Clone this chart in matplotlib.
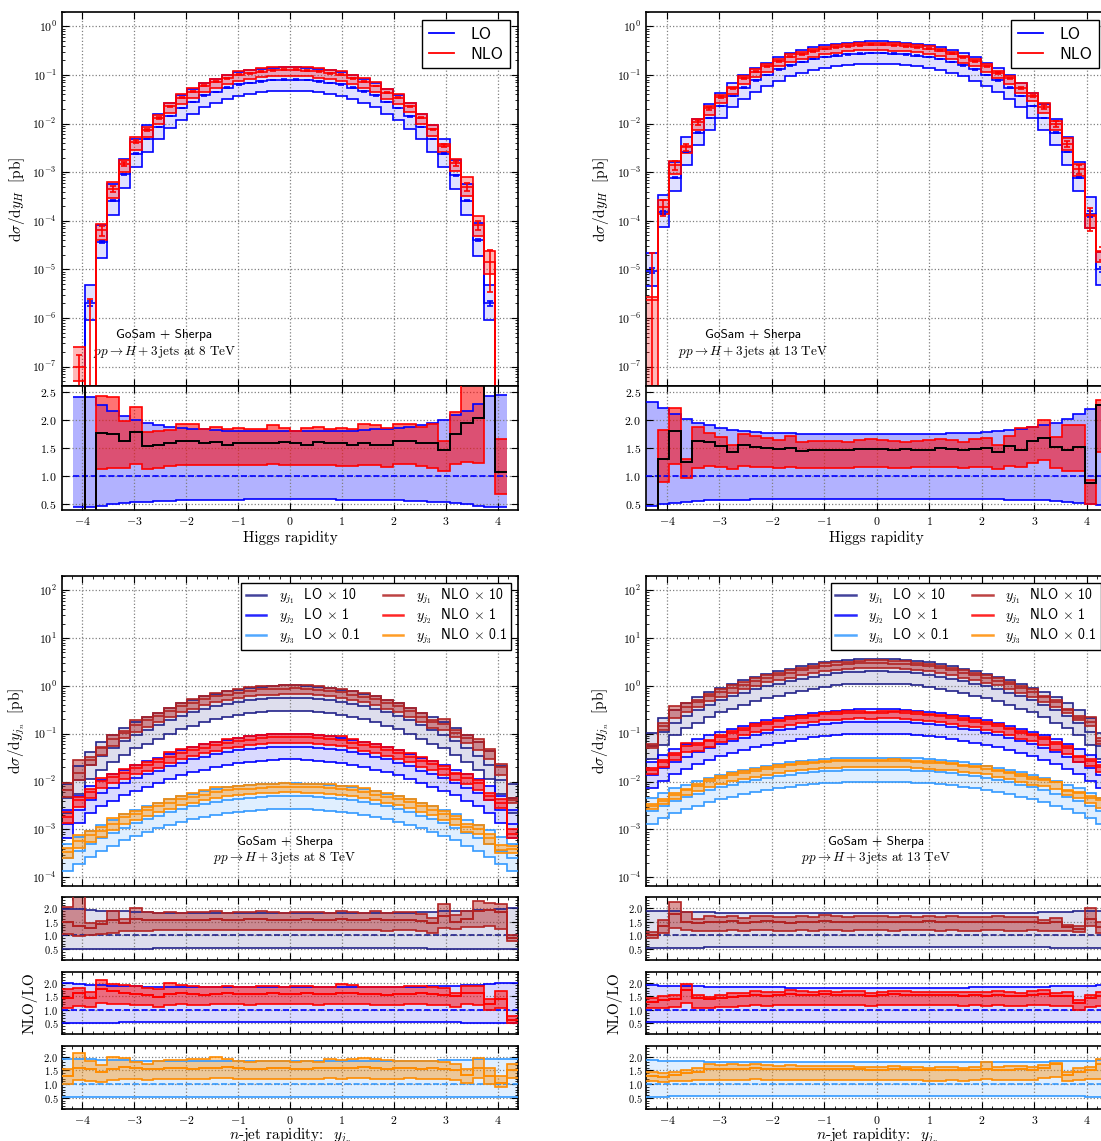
import numpy as np
import matplotlib
matplotlib.use("Agg")
import matplotlib.pyplot as plt
from matplotlib.lines import Line2D
from matplotlib.ticker import AutoMinorLocator, LogLocator, MultipleLocator, NullFormatter

nan = np.nan

# rapidity binning shared by every histogram
edges = np.linspace(-4.4, 4.4, 41)
centres = 0.5 * (edges[1:] + edges[:-1])

# ---------------- Higgs rapidity, 8 TeV ----------------
# LO central [pb]; band edges, K-factor and NLO band are given relative to LO central
h8_lo = [nan, 1e-10, 2.0e-6, 3.6e-5, 2.6e-4, 9.0e-4, 2.4e-3, 4.8e-3, 8.4e-3, 1.43e-2,
         2.1e-2, 2.8e-2, 3.8e-2, 4.5e-2, 5.5e-2, 6.4e-2, 6.9e-2, 7.4e-2, 7.8e-2, 8.0e-2,
         8.0e-2, 7.8e-2, 7.4e-2, 6.9e-2, 6.4e-2, 5.5e-2, 4.6e-2, 3.8e-2, 2.8e-2, 2.1e-2,
         1.4e-2, 8.4e-3, 4.8e-3, 2.4e-3, 8.7e-4, 2.6e-4, 4.0e-5, 2.0e-6, 1e-10, nan]
h8_lo_dn = [nan, 0.45, 0.45, 0.47, 0.50, 0.52, 0.535, 0.55, 0.56, 0.565,
            0.57, 0.575, 0.58, 0.58, 0.585, 0.585, 0.59, 0.59, 0.59, 0.59,
            0.59, 0.59, 0.59, 0.59, 0.585, 0.585, 0.58, 0.58, 0.575, 0.57,
            0.565, 0.56, 0.55, 0.535, 0.52, 0.50, 0.47, 0.45, 0.45, nan]
h8_lo_up = [nan, 2.41, 2.41, 2.27, 2.15, 2.07, 2.00, 1.94, 1.91, 1.88,
            1.86, 1.84, 1.83, 1.82, 1.81, 1.81, 1.80, 1.80, 1.80, 1.80,
            1.80, 1.80, 1.80, 1.80, 1.81, 1.81, 1.82, 1.83, 1.84, 1.86,
            1.88, 1.91, 1.95, 2.00, 2.09, 2.16, 2.28, 2.42, 2.44, nan]
h8_k = [nan, 1000.0, -0.5, 1.77, 1.75, 1.62, 1.78, 1.53, 1.56, 1.58,
        1.62, 1.63, 1.58, 1.60, 1.56, 1.59, 1.58, 1.59, 1.59, 1.61,
        1.59, 1.56, 1.61, 1.58, 1.59, 1.56, 1.58, 1.56, 1.55, 1.62,
        1.63, 1.58, 1.58, 1.46, 1.74, 1.95, 2.04, 7.0, 1.08, nan]
h8_nlo_dn = [nan, 500.0, -1.5, 1.12, 1.15, 1.14, 1.22, 1.12, 1.15, 1.18,
             1.19, 1.19, 1.19, 1.20, 1.19, 1.20, 1.19, 1.20, 1.21, 1.20,
             1.19, 1.20, 1.19, 1.20, 1.18, 1.18, 1.19, 1.20, 1.17, 1.21,
             1.22, 1.18, 1.15, 1.09, 1.21, 1.26, 1.24, 4.0, 0.69, nan]
h8_nlo_up = [nan, 2500.0, -0.2, 2.43, 2.40, 1.98, 2.22, 1.78, 1.80, 1.82,
             1.93, 1.93, 1.84, 1.87, 1.83, 1.85, 1.84, 1.84, 1.90, 1.85,
             1.80, 1.85, 1.87, 1.84, 1.85, 1.84, 1.92, 1.91, 1.85, 1.93,
             1.93, 1.88, 1.93, 1.62, 2.14, 3.00, 3.20, 12.0, 1.66, nan]
h8_lo_err = [nan, 0.0, 0.12, 0.05, 0.03, 0.02, 0.015, 0.012, 0.01, 0.01,
             0.01, 0.01, 0.01, 0.01, 0.01, 0.01, 0.01, 0.01, 0.01, 0.01,
             0.01, 0.01, 0.01, 0.01, 0.01, 0.01, 0.01, 0.01, 0.01, 0.01,
             0.01, 0.01, 0.012, 0.015, 0.02, 0.03, 0.05, 0.12, 0.0, nan]
h8_nlo_err = [nan, 0.70, 3.5, 0.25, 0.15, 0.10, 0.06, 0.04, 0.03, 0.03,
              0.02, 0.02, 0.02, 0.02, 0.02, 0.02, 0.02, 0.02, 0.02, 0.02,
              0.02, 0.02, 0.02, 0.02, 0.02, 0.02, 0.02, 0.02, 0.02, 0.02,
              0.03, 0.03, 0.04, 0.08, 0.10, 0.20, 0.20, 0.75, 0.0, nan]

# ---------------- Higgs rapidity, 13 TeV ----------------
h13_lo = [9.5e-6, 1.5e-4, 7.7e-4, 2.6e-3, 6.5e-3, 1.3e-2, 2.3e-2, 3.7e-2, 5.5e-2, 7.7e-2,
          0.100, 0.130, 0.157, 0.184, 0.210, 0.235, 0.250, 0.265, 0.275, 0.280,
          0.280, 0.275, 0.265, 0.250, 0.235, 0.210, 0.184, 0.157, 0.130, 0.100,
          7.7e-2, 5.5e-2, 3.7e-2, 2.3e-2, 1.3e-2, 6.5e-3, 2.6e-3, 7.7e-4, 1.4e-4, 1.0e-5]
h13_lo_dn = [0.47, 0.50, 0.53, 0.55, 0.56, 0.57, 0.575, 0.58, 0.585, 0.59,
             0.59, 0.59, 0.595, 0.595, 0.60, 0.60, 0.60, 0.60, 0.60, 0.60,
             0.60, 0.60, 0.60, 0.60, 0.60, 0.60, 0.595, 0.595, 0.59, 0.59,
             0.59, 0.585, 0.58, 0.575, 0.57, 0.56, 0.55, 0.53, 0.50, 0.48]
h13_lo_up = [2.31, 2.21, 2.10, 2.02, 1.94, 1.90, 1.86, 1.82, 1.80, 1.78,
             1.77, 1.76, 1.76, 1.75, 1.75, 1.75, 1.75, 1.75, 1.75, 1.75,
             1.75, 1.75, 1.75, 1.75, 1.75, 1.75, 1.76, 1.76, 1.77, 1.78,
             1.80, 1.82, 1.84, 1.87, 1.91, 1.95, 2.02, 2.10, 2.20, 2.26]
h13_k = [0.25, 1.30, 1.80, 1.26, 1.62, 1.60, 1.53, 1.43, 1.55, 1.52,
         1.50, 1.48, 1.50, 1.44, 1.46, 1.46, 1.47, 1.46, 1.48, 1.49,
         1.49, 1.47, 1.48, 1.47, 1.47, 1.50, 1.48, 1.46, 1.48, 1.50,
         1.43, 1.54, 1.47, 1.62, 1.68, 1.52, 1.47, 1.52, 0.88, 2.27]
h13_nlo_dn = [-0.1, 0.90, 1.22, 0.96, 1.15, 1.18, 1.17, 1.12, 1.18, 1.16,
              1.16, 1.15, 1.17, 1.14, 1.14, 1.15, 1.15, 1.15, 1.16, 1.17,
              1.16, 1.15, 1.15, 1.16, 1.16, 1.17, 1.16, 1.14, 1.16, 1.17,
              1.12, 1.18, 1.16, 1.24, 1.28, 1.15, 1.10, 1.09, 0.50, 1.43]
h13_nlo_up = [0.29, 1.82, 2.21, 1.31, 1.88, 1.76, 1.70, 1.56, 1.74, 1.72,
              1.68, 1.64, 1.72, 1.60, 1.62, 1.62, 1.63, 1.61, 1.64, 1.66,
              1.64, 1.62, 1.61, 1.63, 1.64, 1.66, 1.65, 1.60, 1.66, 1.68,
              1.56, 1.72, 1.86, 1.87, 2.00, 1.70, 1.90, 1.90, 0.93, 2.35]
h13_lo_err = [0.12, 0.06, 0.03, 0.02, 0.015, 0.01, 0.01, 0.01, 0.01, 0.01,
              0.01, 0.01, 0.01, 0.01, 0.01, 0.01, 0.01, 0.01, 0.01, 0.01,
              0.01, 0.01, 0.01, 0.01, 0.01, 0.01, 0.01, 0.01, 0.01, 0.01,
              0.01, 0.01, 0.01, 0.01, 0.01, 0.015, 0.02, 0.03, 0.15, 0.12]
h13_nlo_err = [8.0, 0.35, 0.20, 0.15, 0.10, 0.07, 0.05, 0.04, 0.03, 0.03,
               0.02, 0.02, 0.02, 0.02, 0.02, 0.02, 0.02, 0.02, 0.02, 0.02,
               0.02, 0.02, 0.02, 0.02, 0.02, 0.02, 0.02, 0.02, 0.02, 0.02,
               0.03, 0.03, 0.04, 0.05, 0.08, 0.12, 0.15, 0.20, 0.50, 0.30]

# ---------------- n-jet rapidity, 8 TeV (unscaled LO in pb) ----------------
j1_8_lo = [0.00045, 0.0011, 0.0022, 0.0035, 0.0050, 0.0070, 0.0095, 0.0120, 0.0150, 0.0190,
           0.0240, 0.0280, 0.0330, 0.0380, 0.0420, 0.0460, 0.0500, 0.0530, 0.0550, 0.0560,
           0.0560, 0.0550, 0.0530, 0.0500, 0.0460, 0.0420, 0.0380, 0.0330, 0.0280, 0.0240,
           0.0190, 0.0150, 0.0120, 0.0095, 0.0070, 0.0050, 0.0035, 0.0022, 0.0011, 0.00045]
j1_8_lo_dn = [0.50, 0.50, 0.51, 0.51, 0.52, 0.52, 0.52, 0.52, 0.53, 0.53,
              0.53, 0.53, 0.53, 0.53, 0.53, 0.53, 0.53, 0.53, 0.53, 0.53,
              0.53, 0.53, 0.53, 0.53, 0.53, 0.53, 0.53, 0.53, 0.53, 0.53,
              0.53, 0.53, 0.52, 0.52, 0.52, 0.52, 0.51, 0.51, 0.50, 0.50]
j1_8_lo_up = [1.98, 1.97, 1.93, 1.90, 1.89, 1.88, 1.86, 1.85, 1.84, 1.84,
              1.83, 1.83, 1.82, 1.82, 1.82, 1.82, 1.82, 1.82, 1.82, 1.82,
              1.82, 1.82, 1.82, 1.82, 1.82, 1.82, 1.82, 1.83, 1.83, 1.84,
              1.84, 1.85, 1.86, 1.88, 1.89, 1.90, 1.92, 1.95, 1.97, 1.99]
j1_8_k = [1.50, 1.35, 1.28, 1.42, 1.55, 1.45, 1.60, 1.58, 1.57, 1.58,
          1.56, 1.57, 1.58, 1.59, 1.57, 1.58, 1.59, 1.60, 1.58, 1.57,
          1.58, 1.59, 1.57, 1.58, 1.60, 1.57, 1.56, 1.60, 1.55, 1.58,
          1.57, 1.52, 1.45, 1.70, 1.50, 1.60, 1.90, 1.95, 1.85, 0.90]
j1_8_nlo_dn = [1.05, 0.98, 1.00, 1.05, 1.10, 1.15, 1.17, 1.18, 1.19, 1.20,
               1.19, 1.20, 1.20, 1.21, 1.20, 1.20, 1.21, 1.21, 1.20, 1.20,
               1.20, 1.21, 1.20, 1.20, 1.21, 1.20, 1.19, 1.21, 1.18, 1.20,
               1.19, 1.16, 1.10, 1.28, 1.25, 1.30, 1.30, 1.35, 1.25, 0.78]
j1_8_nlo_up = [2.05, 2.60, 1.45, 1.52, 1.90, 1.62, 2.02, 1.85, 1.84, 1.85,
               1.83, 1.86, 1.87, 1.88, 1.84, 1.85, 1.87, 1.88, 1.85, 1.84,
               1.86, 1.87, 1.85, 1.84, 1.88, 1.85, 1.84, 1.90, 1.82, 1.86,
               1.85, 1.80, 1.65, 2.15, 1.75, 1.90, 2.25, 2.20, 2.17, 1.02]

j2_8_lo = [0.0013, 0.0026, 0.0042, 0.0058, 0.0075, 0.0095, 0.0120, 0.0145, 0.0170, 0.0210,
           0.0250, 0.0290, 0.0330, 0.0370, 0.0410, 0.0450, 0.0480, 0.0510, 0.0530, 0.0540,
           0.0540, 0.0530, 0.0510, 0.0480, 0.0450, 0.0410, 0.0370, 0.0330, 0.0290, 0.0250,
           0.0210, 0.0170, 0.0145, 0.0120, 0.0095, 0.0075, 0.0058, 0.0042, 0.0026, 0.0013]
j2_8_lo_dn = [0.52, 0.52, 0.53, 0.53, 0.53, 0.54, 0.54, 0.54, 0.54, 0.54,
              0.54, 0.54, 0.54, 0.54, 0.54, 0.54, 0.54, 0.54, 0.54, 0.54,
              0.54, 0.54, 0.54, 0.54, 0.54, 0.54, 0.54, 0.54, 0.54, 0.54,
              0.54, 0.54, 0.54, 0.54, 0.54, 0.53, 0.53, 0.53, 0.52, 0.52]
j2_8_lo_up = [1.97, 1.95, 1.92, 1.90, 1.88, 1.87, 1.86, 1.85, 1.84, 1.84,
              1.83, 1.83, 1.83, 1.83, 1.83, 1.83, 1.83, 1.83, 1.83, 1.83,
              1.83, 1.83, 1.83, 1.83, 1.83, 1.83, 1.83, 1.83, 1.83, 1.84,
              1.84, 1.85, 1.86, 1.87, 1.88, 1.90, 1.92, 1.95, 1.97, 1.98]
j2_8_k = [1.42, 1.62, 1.45, 1.75, 1.68, 1.62, 1.58, 1.55, 1.48, 1.58,
          1.60, 1.57, 1.56, 1.58, 1.60, 1.58, 1.57, 1.59, 1.60, 1.58,
          1.59, 1.60, 1.57, 1.58, 1.62, 1.60, 1.58, 1.57, 1.56, 1.57,
          1.58, 1.60, 1.58, 1.55, 1.50, 1.62, 1.60, 1.22, 1.40, 0.62]
j2_8_nlo_dn = [1.05, 1.15, 1.10, 1.25, 1.22, 1.20, 1.18, 1.17, 1.12, 1.18,
               1.20, 1.19, 1.19, 1.20, 1.21, 1.20, 1.19, 1.21, 1.21, 1.20,
               1.20, 1.21, 1.19, 1.20, 1.22, 1.21, 1.20, 1.19, 1.18, 1.19,
               1.20, 1.21, 1.18, 1.16, 1.12, 1.20, 1.18, 1.00, 1.08, 0.50]
j2_8_nlo_up = [1.75, 1.80, 1.65, 2.10, 1.95, 1.90, 1.88, 1.80, 1.75, 1.97,
               1.92, 1.86, 1.84, 1.85, 1.88, 1.85, 1.84, 1.86, 1.87, 1.85,
               1.86, 1.88, 1.84, 1.85, 1.95, 1.90, 1.85, 1.84, 1.83, 1.84,
               1.86, 1.88, 1.85, 1.80, 1.63, 1.89, 1.89, 1.38, 1.70, 0.78]

j3_8_lo = [0.0026, 0.0036, 0.0050, 0.0065, 0.0085, 0.0110, 0.0135, 0.0165, 0.0195, 0.0230,
           0.0270, 0.0305, 0.0340, 0.0380, 0.0410, 0.0440, 0.0460, 0.0480, 0.0490, 0.0500,
           0.0500, 0.0490, 0.0480, 0.0460, 0.0440, 0.0410, 0.0380, 0.0340, 0.0305, 0.0270,
           0.0230, 0.0195, 0.0165, 0.0135, 0.0110, 0.0085, 0.0065, 0.0050, 0.0036, 0.0026]
j3_8_lo_dn = [0.53, 0.53, 0.54, 0.54, 0.54, 0.54, 0.54, 0.54, 0.54, 0.54,
              0.54, 0.54, 0.54, 0.54, 0.54, 0.54, 0.54, 0.54, 0.54, 0.54,
              0.54, 0.54, 0.54, 0.54, 0.54, 0.54, 0.54, 0.54, 0.54, 0.54,
              0.54, 0.54, 0.54, 0.54, 0.54, 0.54, 0.54, 0.54, 0.53, 0.53]
j3_8_lo_up = [1.93, 1.92, 1.90, 1.89, 1.88, 1.87, 1.86, 1.86, 1.85, 1.85,
              1.85, 1.85, 1.85, 1.85, 1.85, 1.85, 1.85, 1.85, 1.85, 1.85,
              1.85, 1.85, 1.85, 1.85, 1.85, 1.85, 1.85, 1.85, 1.85, 1.85,
              1.85, 1.86, 1.86, 1.87, 1.88, 1.89, 1.90, 1.91, 1.92, 1.93]
j3_8_k = [1.30, 1.58, 1.55, 1.45, 1.55, 1.62, 1.58, 1.55, 1.57, 1.58,
          1.60, 1.56, 1.58, 1.60, 1.62, 1.58, 1.56, 1.57, 1.58, 1.58,
          1.57, 1.56, 1.58, 1.60, 1.58, 1.60, 1.61, 1.58, 1.57, 1.58,
          1.60, 1.55, 1.58, 1.56, 1.52, 1.35, 1.60, 1.30, 1.05, 1.50]
j3_8_nlo_dn = [1.00, 1.15, 1.10, 1.08, 1.15, 1.18, 1.18, 1.17, 1.18, 1.19,
               1.20, 1.19, 1.20, 1.21, 1.22, 1.20, 1.19, 1.20, 1.20, 1.20,
               1.19, 1.19, 1.20, 1.21, 1.20, 1.21, 1.22, 1.20, 1.19, 1.20,
               1.21, 1.18, 1.19, 1.18, 1.15, 1.05, 1.22, 1.00, 0.90, 1.22]
j3_8_nlo_up = [1.55, 2.12, 1.85, 1.70, 2.00, 1.95, 1.80, 1.75, 1.85, 1.87,
               1.88, 1.90, 1.93, 2.00, 1.92, 1.85, 1.82, 1.84, 1.83, 1.86,
               1.82, 1.83, 1.82, 1.90, 1.88, 1.93, 1.95, 1.90, 1.88, 1.86,
               1.85, 1.86, 1.85, 1.80, 1.75, 1.55, 1.95, 1.60, 1.30, 1.75]

# ---------------- n-jet rapidity, 13 TeV (unscaled LO in pb) ----------------
j1_13_lo = [0.0055, 0.011, 0.017, 0.024, 0.031, 0.040, 0.050, 0.060, 0.072, 0.085,
            0.098, 0.112, 0.127, 0.142, 0.156, 0.170, 0.182, 0.191, 0.197, 0.200,
            0.200, 0.197, 0.191, 0.182, 0.170, 0.156, 0.142, 0.127, 0.112, 0.098,
            0.085, 0.072, 0.060, 0.050, 0.040, 0.031, 0.024, 0.017, 0.011, 0.0055]
j1_13_lo_dn = [0.54, 0.54, 0.55, 0.55, 0.55, 0.56, 0.56, 0.56, 0.56, 0.56,
               0.56, 0.56, 0.56, 0.56, 0.56, 0.56, 0.56, 0.56, 0.56, 0.56,
               0.56, 0.56, 0.56, 0.56, 0.56, 0.56, 0.56, 0.56, 0.56, 0.56,
               0.56, 0.56, 0.56, 0.56, 0.56, 0.55, 0.55, 0.55, 0.54, 0.54]
j1_13_lo_up = [1.91, 1.90, 1.88, 1.87, 1.86, 1.85, 1.84, 1.83, 1.83, 1.82,
               1.82, 1.81, 1.81, 1.81, 1.81, 1.81, 1.81, 1.81, 1.81, 1.81,
               1.81, 1.81, 1.81, 1.81, 1.81, 1.81, 1.81, 1.81, 1.81, 1.82,
               1.82, 1.83, 1.83, 1.84, 1.85, 1.86, 1.87, 1.88, 1.90, 1.91]
j1_13_k = [1.00, 1.35, 1.80, 1.48, 1.45, 1.50, 1.48, 1.52, 1.47, 1.50,
           1.52, 1.48, 1.47, 1.50, 1.49, 1.52, 1.50, 1.48, 1.50, 1.49,
           1.50, 1.48, 1.51, 1.50, 1.52, 1.49, 1.50, 1.48, 1.49, 1.50,
           1.51, 1.49, 1.48, 1.50, 1.45, 1.48, 1.30, 1.25, 1.60, 1.30]
j1_13_nlo_dn = [0.90, 1.10, 1.27, 1.20, 1.15, 1.18, 1.17, 1.20, 1.17, 1.19,
                1.20, 1.18, 1.17, 1.19, 1.18, 1.20, 1.19, 1.18, 1.19, 1.19,
                1.19, 1.18, 1.19, 1.19, 1.20, 1.18, 1.19, 1.17, 1.18, 1.19,
                1.20, 1.18, 1.17, 1.19, 1.15, 1.17, 1.15, 1.12, 1.35, 1.10]
j1_13_nlo_up = [1.12, 1.55, 2.22, 1.85, 1.62, 1.70, 1.68, 1.72, 1.65, 1.70,
                1.72, 1.68, 1.66, 1.70, 1.69, 1.75, 1.70, 1.68, 1.71, 1.70,
                1.70, 1.68, 1.70, 1.69, 1.72, 1.68, 1.70, 1.66, 1.68, 1.69,
                1.70, 1.68, 1.66, 1.68, 1.55, 1.65, 1.40, 1.35, 2.00, 1.50]

j2_13_lo = [0.0135, 0.019, 0.026, 0.033, 0.041, 0.050, 0.060, 0.070, 0.081, 0.093,
            0.105, 0.117, 0.128, 0.139, 0.150, 0.160, 0.168, 0.174, 0.178, 0.180,
            0.180, 0.178, 0.174, 0.168, 0.160, 0.150, 0.139, 0.128, 0.117, 0.105,
            0.093, 0.081, 0.070, 0.060, 0.050, 0.041, 0.033, 0.026, 0.019, 0.0135]
j2_13_lo_dn = [0.55, 0.55, 0.56, 0.56, 0.56, 0.56, 0.56, 0.56, 0.56, 0.56,
               0.56, 0.56, 0.56, 0.56, 0.56, 0.56, 0.56, 0.56, 0.56, 0.56,
               0.56, 0.56, 0.56, 0.56, 0.56, 0.56, 0.56, 0.56, 0.56, 0.56,
               0.56, 0.56, 0.56, 0.56, 0.56, 0.56, 0.56, 0.56, 0.55, 0.55]
j2_13_lo_up = [1.90, 1.89, 1.88, 1.87, 1.86, 1.85, 1.84, 1.83, 1.83, 1.82,
               1.82, 1.82, 1.81, 1.81, 1.81, 1.81, 1.81, 1.81, 1.81, 1.81,
               1.81, 1.81, 1.81, 1.81, 1.81, 1.81, 1.81, 1.81, 1.82, 1.82,
               1.82, 1.83, 1.83, 1.84, 1.85, 1.86, 1.87, 1.88, 1.89, 1.90]
j2_13_k = [1.30, 1.35, 1.40, 1.72, 1.45, 1.38, 1.45, 1.48, 1.50, 1.55,
           1.52, 1.55, 1.58, 1.56, 1.55, 1.58, 1.54, 1.55, 1.56, 1.50,
           1.53, 1.57, 1.55, 1.54, 1.53, 1.55, 1.54, 1.52, 1.53, 1.52,
           1.55, 1.52, 1.50, 1.55, 1.58, 1.50, 1.52, 1.25, 1.45, 1.50]
j2_13_nlo_dn = [1.05, 1.08, 1.10, 1.25, 1.08, 1.05, 1.10, 1.12, 1.14, 1.17,
                1.15, 1.17, 1.19, 1.18, 1.17, 1.19, 1.16, 1.17, 1.18, 1.14,
                1.16, 1.19, 1.17, 1.16, 1.16, 1.17, 1.16, 1.15, 1.16, 1.15,
                1.17, 1.15, 1.13, 1.17, 1.19, 1.13, 1.15, 1.00, 1.10, 1.15]
j2_13_nlo_up = [1.45, 1.50, 1.55, 1.96, 1.55, 1.48, 1.55, 1.60, 1.62, 1.68,
                1.65, 1.66, 1.72, 1.68, 1.66, 1.70, 1.66, 1.68, 1.70, 1.60,
                1.65, 1.70, 1.68, 1.66, 1.65, 1.67, 1.66, 1.64, 1.65, 1.64,
                1.68, 1.66, 1.62, 1.68, 1.72, 1.62, 1.65, 1.35, 1.55, 1.65]

j3_13_lo = [0.024, 0.031, 0.039, 0.047, 0.056, 0.066, 0.076, 0.086, 0.097, 0.108,
            0.119, 0.130, 0.140, 0.150, 0.158, 0.165, 0.170, 0.174, 0.176, 0.177,
            0.177, 0.176, 0.174, 0.170, 0.165, 0.158, 0.150, 0.140, 0.130, 0.119,
            0.108, 0.097, 0.086, 0.076, 0.066, 0.056, 0.047, 0.039, 0.031, 0.024]
j3_13_lo_dn = [0.55, 0.55, 0.56, 0.56, 0.56, 0.56, 0.56, 0.56, 0.56, 0.56,
               0.56, 0.56, 0.56, 0.56, 0.56, 0.56, 0.56, 0.56, 0.56, 0.56,
               0.56, 0.56, 0.56, 0.56, 0.56, 0.56, 0.56, 0.56, 0.56, 0.56,
               0.56, 0.56, 0.56, 0.56, 0.56, 0.56, 0.56, 0.56, 0.55, 0.55]
j3_13_lo_up = [1.87, 1.86, 1.85, 1.84, 1.83, 1.82, 1.82, 1.81, 1.81, 1.80,
               1.80, 1.80, 1.80, 1.80, 1.80, 1.80, 1.80, 1.80, 1.80, 1.80,
               1.80, 1.80, 1.80, 1.80, 1.80, 1.80, 1.80, 1.80, 1.80, 1.80,
               1.80, 1.81, 1.81, 1.82, 1.82, 1.83, 1.84, 1.85, 1.86, 1.87]
j3_13_k = [1.30, 1.28, 1.35, 1.40, 1.45, 1.55, 1.55, 1.57, 1.55, 1.58,
           1.56, 1.55, 1.57, 1.56, 1.55, 1.54, 1.55, 1.55, 1.54, 1.52,
           1.53, 1.55, 1.54, 1.53, 1.50, 1.52, 1.53, 1.50, 1.52, 1.55,
           1.52, 1.53, 1.55, 1.52, 1.60, 1.75, 1.35, 1.45, 1.50, 1.75]
j3_13_nlo_dn = [1.10, 1.08, 1.10, 1.12, 1.15, 1.17, 1.16, 1.17, 1.16, 1.18,
                1.17, 1.16, 1.17, 1.16, 1.16, 1.15, 1.16, 1.16, 1.15, 1.14,
                1.14, 1.16, 1.15, 1.14, 1.12, 1.13, 1.15, 1.12, 1.14, 1.20,
                1.14, 1.15, 1.16, 1.14, 1.22, 1.28, 1.10, 1.15, 1.18, 1.20]
j3_13_nlo_up = [1.45, 1.40, 1.45, 1.50, 1.60, 1.72, 1.70, 1.72, 1.70, 1.72,
                1.70, 1.68, 1.70, 1.68, 1.66, 1.65, 1.66, 1.65, 1.64, 1.62,
                1.63, 1.66, 1.64, 1.62, 1.60, 1.62, 1.64, 1.58, 1.62, 1.80,
                1.62, 1.65, 1.66, 1.62, 1.70, 1.78, 1.45, 1.58, 1.62, 1.90]

jet_scales = [10.0, 1.0, 0.1]
jet_scale_labels = ["10", "1", "0.1"]
jet_lo_colors = ["#22228a", "#0000ff", "#3399ff"]
jet_nlo_colors = ["#b22222", "#ff0000", "#ff8c00"]

plt.rcParams.update({
    "font.family": "serif",
    "font.serif": ["cmr10"],
    "mathtext.fontset": "cm",
    "axes.formatter.use_mathtext": True,
    "axes.linewidth": 1.2,
    "xtick.direction": "in",
    "ytick.direction": "in",
    "xtick.top": True,
    "ytick.right": True,
    "xtick.major.size": 5,
    "ytick.major.size": 5,
    "xtick.minor.size": 2.5,
    "ytick.minor.size": 2.5,
    "xtick.labelsize": 8.5,
    "ytick.labelsize": 8.5,
})


def arr(v):
    return np.asarray(v, dtype=float)


def filled_range(lo):
    idx = np.flatnonzero(np.isfinite(arr(lo)))
    return slice(idx[0], idx[-1] + 1), edges[idx[0]:idx[-1] + 2]


def draw_spectrum(ax, lo, lo_dn, lo_up, k, nlo_dn, nlo_up, c_lo, c_nlo,
                  a_lo, a_nlo, scale=1.0, lo_err=None, nlo_err=None):
    s, e = filled_range(lo)
    base = arr(lo)[s] * scale
    lo_lines = [base * arr(lo_dn)[s], base, base * arr(lo_up)[s]]
    nlo_lines = [base * arr(v)[s] for v in (nlo_dn, k, nlo_up)]
    ax.stairs(lo_lines[2], e, baseline=lo_lines[0], fill=True, color=c_lo, alpha=a_lo, lw=0, zorder=1)
    ax.stairs(nlo_lines[2], e, baseline=nlo_lines[0], fill=True, color=c_nlo, alpha=a_nlo, lw=0, zorder=2)
    for v in lo_lines:
        ax.stairs(v, e, baseline=None, color=c_lo, lw=1.2, zorder=3)
    for v in nlo_lines:
        ax.stairs(v, e, baseline=None, color=c_nlo, lw=1.2, zorder=4)
    if lo_err is not None:
        ax.errorbar(centres[s], base, yerr=np.abs(base) * arr(lo_err)[s], fmt="none",
                    ecolor=c_lo, elinewidth=1.2, capsize=2, capthick=1.2, zorder=5)
    if nlo_err is not None:
        ax.errorbar(centres[s], nlo_lines[1], yerr=np.abs(nlo_lines[1]) * arr(nlo_err)[s], fmt="none",
                    ecolor=c_nlo, elinewidth=1.2, capsize=2, capthick=1.2, zorder=6)


def draw_ratio(ax, lo, lo_dn, lo_up, k, nlo_dn, nlo_up, c_lo, c_nlo, c_k, a_lo, a_nlo):
    s, e = filled_range(lo)
    dn, up = arr(lo_dn)[s], arr(lo_up)[s]
    ndn, kk, nup = arr(nlo_dn)[s], arr(k)[s], arr(nlo_up)[s]
    ax.stairs(up, e, baseline=dn, fill=True, color=c_lo, alpha=a_lo, lw=0, zorder=1)
    ax.stairs(nup, e, baseline=ndn, fill=True, color=c_nlo, alpha=a_nlo, lw=0, zorder=2)
    ax.stairs(dn, e, baseline=None, color=c_lo, lw=1.2, zorder=3)
    ax.stairs(up, e, baseline=None, color=c_lo, lw=1.2, zorder=3)
    ax.stairs(np.ones_like(dn), e, baseline=None, color=c_lo, lw=1.2, ls="--", zorder=3)
    ax.stairs(ndn, e, baseline=None, color=c_nlo, lw=1.2, zorder=4)
    ax.stairs(nup, e, baseline=None, color=c_nlo, lw=1.2, zorder=4)
    ax.stairs(kk, e, baseline=None, color=c_k, lw=1.4, zorder=5)


def style_axis(ax, log=False):
    ax.set_xlim(-4.4, 4.4)
    ax.xaxis.set_major_locator(MultipleLocator(1))
    ax.grid(True, which="major", ls=":", color="#808080", lw=0.9)
    if log:
        ax.set_yscale("log")
        ax.yaxis.set_major_locator(LogLocator(base=10, numticks=20))
        ax.yaxis.set_minor_locator(LogLocator(base=10, subs=np.arange(2, 10), numticks=20))
        ax.yaxis.set_minor_formatter(NullFormatter())


W, H = 1101.0, 1141.0
fig = plt.figure(figsize=(W / 100, H / 100), dpi=100)


def rect(x0, x1, y_top, y_bottom):
    return [x0 / W, 1 - y_bottom / H, (x1 - x0) / W, (y_bottom - y_top) / H]


columns = [(61.7, 518.3), (646.0, 1107.7)]

# ---------------- Higgs rapidity panels ----------------
higgs_sets = [
    (h8_lo, h8_lo_dn, h8_lo_up, h8_k, h8_nlo_dn, h8_nlo_up, h8_lo_err, h8_nlo_err, "8"),
    (h13_lo, h13_lo_dn, h13_lo_up, h13_k, h13_nlo_dn, h13_nlo_up, h13_lo_err, h13_nlo_err, "13"),
]
for (x0, x1), (lo, dn, up, k, ndn, nup, lerr, nerr, energy) in zip(columns, higgs_sets):
    ax = fig.add_axes(rect(x0, x1, 11.7, 386.0))
    style_axis(ax, log=True)
    draw_spectrum(ax, lo, dn, up, k, ndn, nup, "#0000ff", "#ff0000", 0.12, 0.28,
                  lo_err=lerr, nlo_err=nerr)
    ax.set_ylim(4e-8, 2.0)
    ax.tick_params(labelbottom=False)
    ax.set_ylabel(r"$\mathrm{d}\sigma/\mathrm{d}y_H\ \ [\mathrm{pb}]$", fontsize=11)
    handles = [Line2D([], [], color="#0000ff", lw=1.3, label="LO"),
               Line2D([], [], color="#ff0000", lw=1.3, label="NLO")]
    leg = ax.legend(handles=handles, loc="upper right", prop={"family": "cmss10", "size": 12},
                    fancybox=False, edgecolor="black", framealpha=1.0,
                    handlelength=1.5, handletextpad=1.0, borderpad=0.4, labelspacing=0.3)
    leg.get_frame().set_linewidth(1.0)
    leg.set_zorder(10)
    xt = 0.225 if energy == "8" else 0.231
    ax.text(xt, 0.136, "GoSam + Sherpa", transform=ax.transAxes, ha="center", va="center",
            family="cmss10", fontsize=9.5)
    ax.text(xt, 0.092, r"$pp \to H + 3\,\mathrm{jets\ at\ %s\ TeV}$" % energy, transform=ax.transAxes,
            ha="center", va="center", fontsize=9.5)

    rax = fig.add_axes(rect(x0, x1, 386.0, 510.0))
    style_axis(rax)
    draw_ratio(rax, lo, dn, up, k, ndn, nup, "#0000ff", "#ff0000", "black", 0.30, 0.55)
    rax.set_ylim(0.4, 2.6)
    rax.set_yticks([0.5, 1.0, 1.5, 2.0, 2.5])
    rax.set_xlabel("Higgs rapidity", fontsize=11, labelpad=3)

# ---------------- n-jet rapidity panels ----------------
jet_sets = [
    [(j1_8_lo, j1_8_lo_dn, j1_8_lo_up, j1_8_k, j1_8_nlo_dn, j1_8_nlo_up),
     (j2_8_lo, j2_8_lo_dn, j2_8_lo_up, j2_8_k, j2_8_nlo_dn, j2_8_nlo_up),
     (j3_8_lo, j3_8_lo_dn, j3_8_lo_up, j3_8_k, j3_8_nlo_dn, j3_8_nlo_up)],
    [(j1_13_lo, j1_13_lo_dn, j1_13_lo_up, j1_13_k, j1_13_nlo_dn, j1_13_nlo_up),
     (j2_13_lo, j2_13_lo_dn, j2_13_lo_up, j2_13_k, j2_13_nlo_dn, j2_13_nlo_up),
     (j3_13_lo, j3_13_lo_dn, j3_13_lo_up, j3_13_k, j3_13_nlo_dn, j3_13_nlo_up)],
]
ratio_rows = [(897.3, 960.0), (971.7, 1034.3), (1045.7, 1109.0)]
nlo_alpha = [0.45, 0.5, 0.4]

for (x0, x1), jets, energy in zip(columns, jet_sets, ["8", "13"]):
    ax = fig.add_axes(rect(x0, x1, 575.7, 885.7))
    style_axis(ax, log=True)
    ax.xaxis.set_minor_locator(AutoMinorLocator(5))
    handles_lo, handles_nlo = [], []
    for n, (lo, dn, up, k, ndn, nup) in enumerate(jets):
        draw_spectrum(ax, lo, dn, up, k, ndn, nup, jet_lo_colors[n], jet_nlo_colors[n],
                      0.15, nlo_alpha[n], scale=jet_scales[n])
        sub = r"$y_{j_%d}$" % (n + 1)
        handles_lo.append(Line2D([], [], color=jet_lo_colors[n], lw=1.8, alpha=0.85,
                                 label=sub + r"  LO $\times$ " + jet_scale_labels[n]))
        handles_nlo.append(Line2D([], [], color=jet_nlo_colors[n], lw=1.8, alpha=0.85,
                                  label=sub + r"  NLO $\times$ " + jet_scale_labels[n]))
    ax.set_ylim(6.7e-5, 200.0)
    ax.tick_params(labelbottom=False)
    ax.set_ylabel(r"$\mathrm{d}\sigma/\mathrm{d}y_{j_n}\ \ [\mathrm{pb}]$", fontsize=11)
    leg = ax.legend(handles=handles_lo + handles_nlo, ncol=2, loc="upper right",
                    prop={"family": "cmss10", "size": 10}, fancybox=False, edgecolor="black",
                    framealpha=1.0, handlelength=1.5, handletextpad=0.9, columnspacing=1.6,
                    borderpad=0.3, labelspacing=0.05)
    leg.get_frame().set_linewidth(1.0)
    leg.set_zorder(10)
    xt = 0.489 if energy == "8" else 0.498
    ax.text(xt, 0.142, "GoSam + Sherpa", transform=ax.transAxes, ha="center", va="center",
            family="cmss10", fontsize=9.5)
    ax.text(xt, 0.088, r"$pp \to H + 3\,\mathrm{jets\ at\ %s\ TeV}$" % energy, transform=ax.transAxes,
            ha="center", va="center", fontsize=9.5)

    for n, ((yt, yb), (lo, dn, up, k, ndn, nup)) in enumerate(zip(ratio_rows, jets)):
        rax = fig.add_axes(rect(x0, x1, yt, yb))
        style_axis(rax)
        rax.xaxis.set_minor_locator(AutoMinorLocator(5))
        rax.yaxis.set_minor_locator(AutoMinorLocator(5))
        rax.tick_params(axis="y", labelsize=7.5, pad=2.5)
        draw_ratio(rax, lo, dn, up, k, ndn, nup, jet_lo_colors[n], jet_nlo_colors[n],
                   jet_nlo_colors[n], 0.15, nlo_alpha[n])
        rax.set_ylim(0.1, 2.4)
        rax.set_yticks([0.5, 1.0, 1.5, 2.0])
        if n < 2:
            rax.tick_params(labelbottom=False)
        if n == 1:
            rax.set_ylabel("NLO/LO", fontsize=11)
        if n == 2:
            rax.set_xlabel(r"$n$-jet rapidity:  $y_{j_n}$", fontsize=11, labelpad=0)

fig.savefig("out.png", dpi=100)
